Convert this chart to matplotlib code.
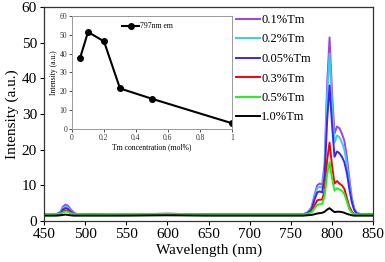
import numpy as np
import matplotlib
matplotlib.use('Agg')
import matplotlib.pyplot as plt

plt.rcParams['font.family'] = ['Liberation Serif', 'DejaVu Serif']

# emission spectra
wavelength = [450, 465, 470, 473, 476, 479, 482, 486, 490, 500, 550, 600, 650, 700,
              750, 765, 770, 775, 779, 782, 785, 788, 791, 794, 797, 800, 803, 806,
              809, 812, 815, 818, 821, 824, 827, 830, 835, 850]

tm_01 = [1.8, 1.9, 2.6, 4.0, 4.6, 4.3, 3.4, 2.4, 1.9, 1.9, 1.9, 2.0, 1.9, 1.8,
         1.8, 1.9, 2.4, 3.8, 7.5, 10.0, 10.5, 10.2, 16, 38, 51.5, 36, 24.5, 26.5,
         26, 24.5, 22.5, 18, 12, 6.5, 3.5, 2.3, 1.9, 1.9]
tm_02 = [1.8, 1.9, 2.4, 3.6, 4.1, 3.8, 3.0, 2.2, 1.9, 1.9, 1.9, 2.0, 1.9, 1.8,
         1.8, 1.9, 2.3, 3.5, 7, 9.2, 9.6, 9.3, 14.5, 35, 47, 33, 22, 24,
         23.5, 22, 20, 16, 10.5, 6, 3.3, 2.2, 1.9, 1.9]
tm_005 = [1.8, 1.9, 2.2, 3.2, 3.6, 3.4, 2.7, 2.1, 1.9, 1.9, 1.9, 2.0, 1.9, 1.8,
          1.8, 1.9, 2.2, 3.2, 6.2, 8, 8.3, 8, 12.5, 28, 38, 27, 18, 19.5,
          19, 18, 16.5, 13.5, 9, 5.3, 3, 2.1, 1.9, 1.9]
tm_03 = [1.8, 1.9, 2.0, 2.6, 3.0, 2.8, 2.3, 2.0, 1.9, 1.9, 1.9, 2.0, 1.9, 1.8,
         1.8, 1.8, 2.0, 2.6, 4.5, 5.8, 6.0, 6.0, 8.5, 17, 22, 15.5, 10.5, 11.2,
         10.5, 10, 9, 6.5, 4, 2.6, 2.0, 1.9, 1.9, 1.9]
tm_05 = [1.9, 2.0, 2.1, 2.4, 2.7, 2.6, 2.2, 2.0, 2.0, 1.9, 2.0, 2.0, 1.9, 1.9,
         1.9, 1.9, 2.0, 2.4, 3.6, 4.5, 4.7, 4.8, 7, 13, 16.5, 12, 8.5, 9.2,
         8.8, 8.5, 7.5, 5.5, 3.3, 2.3, 2.0, 1.9, 1.9, 1.9]
tm_10 = [1.5, 1.5, 1.6, 1.7, 1.8, 1.7, 1.6, 1.5, 1.5, 1.5, 1.5, 1.6, 1.5, 1.5,
         1.5, 1.5, 1.6, 1.7, 1.9, 2.1, 2.2, 2.3, 2.6, 3.2, 3.6, 3.0, 2.5, 2.6,
         2.6, 2.5, 2.3, 2.0, 1.8, 1.6, 1.5, 1.5, 1.5, 1.5]

labels = ['0.1%Tm', '0.2%Tm', '0.05%Tm', '0.3%Tm', '0.5%Tm', '1.0%Tm']
colors = ['#A040F0', '#40C8F0', '#4020FF', '#FF0000', '#20F020', '#000000']

# inset: 797 nm peak vs concentration
conc = [0.05, 0.1, 0.2, 0.3, 0.5, 1.0]
peak = [37.5, 51.5, 46.5, 21.5, 16, 3]

fig = plt.figure(figsize=(3.85, 2.62), dpi=100)
ax = fig.add_axes([0.1143, 0.1565, 0.855, 0.8165])

for y, lab, c in zip([tm_01, tm_02, tm_005, tm_03, tm_05, tm_10], labels, colors):
    ax.plot(wavelength, y, color=c, lw=1.4, label=lab)

ax.set_xlim(450, 850)
ax.set_ylim(0, 60)
ax.set_xticks(np.arange(450, 851, 50))
ax.set_yticks(np.arange(0, 61, 10))
ax.tick_params(labelsize=11, length=3, width=0.8, pad=2)
ax.set_xlabel('Wavelength (nm)', fontsize=11, labelpad=2)
ax.set_ylabel('Intensity (a.u.)', fontsize=11, labelpad=2)
for s in ax.spines.values():
    s.set_linewidth(0.9)
    s.set_color('#333333')

ax.legend(loc='upper left', bbox_to_anchor=(236 / 385, 1 - 14 / 262),
          bbox_transform=fig.transFigure, frameon=False, fontsize=9,
          handlelength=1.9, handletextpad=0.1, labelspacing=0.6,
          borderaxespad=0, borderpad=0)

ins = fig.add_axes([0.187, 0.508, 0.4156, 0.431])
ins.plot(conc, peak, color='black', lw=1.5, marker='o', ms=4, label='797nm em')
ins.set_xlim(0, 1)
ins.set_ylim(0, 60)
ins.set_xticks([0, 0.2, 0.4, 0.6, 0.8, 1])
ins.set_xticklabels(['0', '0.2', '0.4', '0.6', '0.8', '1'])
ins.set_yticks(np.arange(0, 61, 10))
ins.tick_params(labelsize=5.5, length=2, width=0.6, pad=1.5, colors='#333333')
ins.set_xlabel('Tm concentration (mol%)', fontsize=5.5, labelpad=1)
ins.set_ylabel('Intensity (a.u.)', fontsize=5.5, labelpad=1)
for s in ins.spines.values():
    s.set_linewidth(0.7)
    s.set_color('#999999')
ins.legend(loc='upper left', bbox_to_anchor=(0.28, 0.99), frameon=False,
           fontsize=5.5, handlelength=2.2, handletextpad=0.2, borderpad=0.2)

fig.savefig('out.png', dpi=100)
